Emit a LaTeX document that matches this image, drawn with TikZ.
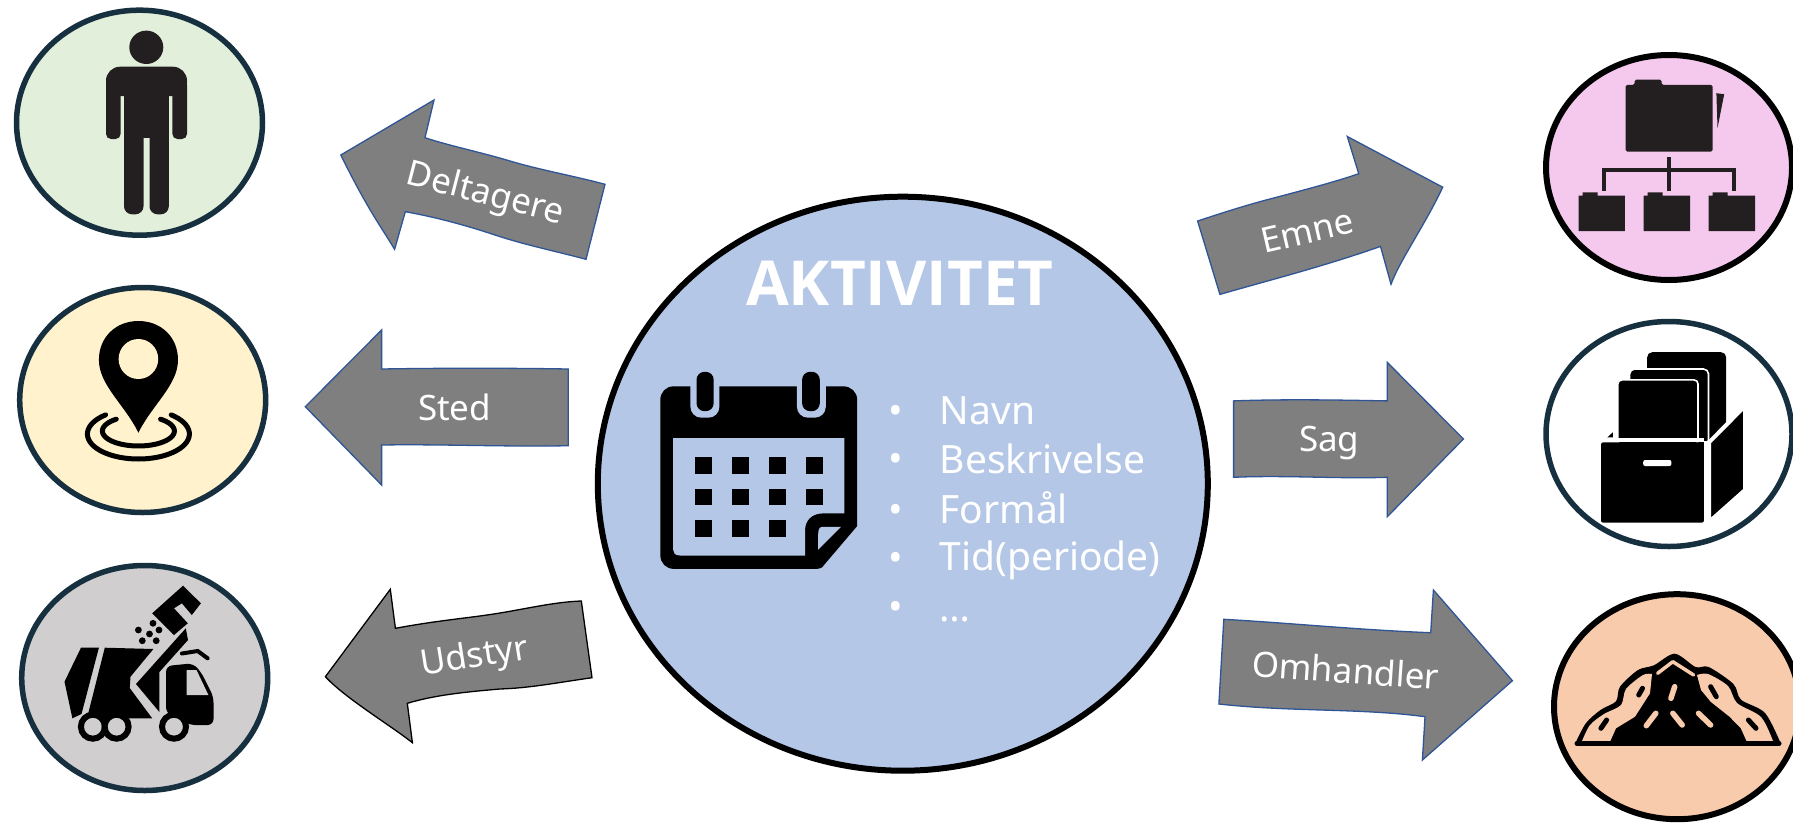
\documentclass[tikz,border=0pt]{standalone}
\usepackage{fontspec}
\setmainfont{Noto Sans}
\newfontfamily\titlefont{Open Sans}
\usetikzlibrary{shapes.geometric}
\definecolor{navyline}{HTML}{17303F}
\definecolor{arrowgray}{HTML}{7F7F7F}
\definecolor{arrowblue}{HTML}{2F5597}
\definecolor{iconblack}{HTML}{231F20}
\definecolor{cgreen}{HTML}{E2EFDA}
\definecolor{cyellow}{HTML}{FFF2CC}
\definecolor{cgray}{HTML}{D0CECE}
\definecolor{cblue}{HTML}{B4C7E7}
\definecolor{cpink}{HTML}{F5C9EE}
\definecolor{cpeach}{HTML}{F8CBAD}
\tikzset{
  disc/.style={ellipse,draw=navyline,line width=5.5pt,inner sep=0pt,minimum width=246pt,minimum height=225pt},
  blockarrow/.style={fill=arrowgray,draw=arrowblue,line width=1.3pt,line join=miter},
  arrowlabel/.style={text=white,inner sep=0pt,font=\fontsize{35}{35}\selectfont},
  listitem/.style={text=white,inner sep=0pt,anchor=base west,font=\fontsize{39}{39}\selectfont},
  listbullet/.style={text=white,inner sep=0pt,anchor=base,font=\fontsize{39}{39}\selectfont},
}
\begin{document}
\begin{tikzpicture}[x=1pt,y=-1pt]
\useasboundingbox (0,0) rectangle (1793,822);
\clip (0,0) rectangle (1793,822);
\fill[white] (0,0) rectangle (1793,822);
% discs
\node[disc,fill=cgreen] (people) at (139.5,122.7) {};
\node[disc,fill=cyellow] (place) at (142.7,400) {};
\node[disc,fill=cgray] (gear) at (144.7,678) {};
\node[disc,fill=cpink,draw=black,line width=6pt] (topic) at (1669,167.5) {};
\node[disc,fill=white] (case) at (1669,434) {};
\node[disc,fill=cpeach,draw=black,line width=6pt] (about) at (1677,706.7) {};
\node[ellipse,draw=black,fill=cblue,line width=6pt,inner sep=0pt,minimum width=610pt,minimum height=574pt] (act) at (902.8,483.7) {};
% arrows
\path[blockarrow] (340.8,155) -- (434,100) -- (425,137.7) .. controls (450,146) and (480,152) .. (510,161) .. controls (540,170) and (570,175) .. (605,184.3) -- (586,259.3) .. controls (555,251) and (525,245) .. (495,235) .. controls (465,225) and (435,217) .. (405.3,211.7) -- (394.6,249.3) .. controls (380,225) and (368,210) .. cycle;
\path[blockarrow] (305.3,406.7) -- (381.6,330) -- (381.6,369) .. controls (440,368) and (510,368) .. (568.2,369) -- (568.2,445.7) .. controls (510,447) and (440,444) .. (381.6,445) -- (381.6,485) -- cycle;
\path[blockarrow,draw=black] (325.4,676.7) -- (390.3,589.3) -- (395.4,628.3) .. controls (440,620) and (470,618) .. (500,613) .. controls (530,608) and (555,602) .. (581.3,601) -- (592,677.7) .. controls (555,683) and (530,688) .. (500,689) .. controls (465,692) and (435,695) .. (407.3,703.3) -- (412.4,742.7) .. controls (390,725) and (345,698) .. cycle;
\path[blockarrow] (1197.6,221) .. controls (1225,212) and (1250,204) .. (1273.8,198) .. controls (1300,191) and (1335,182) .. (1358.7,173.7) -- (1347.3,136.5) -- (1442.7,187.2) .. controls (1425,225) and (1400,260) .. (1391,284.2) -- (1380.5,246.4) .. controls (1325,266) and (1270,280) .. (1219.9,294.4) -- cycle;
\path[blockarrow] (1233.6,400.9) .. controls (1285,399) and (1340,400) .. (1387.2,400.9) -- (1387.2,362.3) -- (1463.4,439) -- (1387.2,516.8) -- (1387.2,477.3) .. controls (1340,479) and (1285,475) .. (1233.6,477.3) -- cycle;
\path[blockarrow] (1223.8,619.3) .. controls (1290,623) and (1360,630) .. (1430.7,632.7) -- (1433.4,590) -- (1512.4,680.7) -- (1422.4,760) -- (1425,716.7) .. controls (1360,708) and (1290,712) .. (1218.9,704) -- cycle;
% arrow labels
\node[arrowlabel,rotate=-14.5] (lbl1) at (485,195) {Deltagere};
\node[arrowlabel] (lbl2) at (454.7,407.3) {Sted};
\node[arrowlabel,rotate=9] (lbl3) at (474.5,658.3) {Udstyr};
\node[arrowlabel,rotate=13] (lbl4) at (1307,231) {Emne};
\node[arrowlabel] (lbl5) at (1329.3,443) {Sag};
\node[arrowlabel,rotate=-4] (lbl6) at (1345.6,670) {Omhandler};
% central texts
\node[text=white,inner sep=0pt,anchor=base,font=\titlefont\fontsize{62}{62}\selectfont\bfseries] (title) at (900,305.6) {AKTIVITET};
\foreach \n/\t/\yb in {a/Navn/424.2,b/Beskrivelse/473.2,c/Formål/523,d/Tid(periode)/570.8,e/…/621.7}{
  \node[listitem] (item\n) at (939.5,\yb) {\t};
}
\node[listbullet] (ba) at (896,424) {•};
\node[listbullet] (bb) at (896,472.8) {•};
\node[listbullet] (bc) at (896,523) {•};
\node[listbullet] (bd) at (896,571.2) {•};
\node[listbullet] (be) at (896,620.9) {•};
% calendar
\fill[black] (674,386.3) -- (843,386.3) .. controls (851,386.3) and (857.2,392) .. (857.2,400) -- (857.2,526) -- (824,565) .. controls (822,568) and (820,568.9) .. (817,568.9) -- (674,568.9) .. controls (666,568.9) and (660.3,563) .. (660.3,555) -- (660.3,400) .. controls (660.3,392) and (666,386.3) .. cycle;
\fill[cblue] (673.2,438) -- (844.3,438) -- (844.3,513.4) -- (823,513.4) .. controls (812,513.4) and (805,520) .. (805,530.6) -- (805,555.5) -- (680,555.5) .. controls (675,555.5) and (673.2,553) .. (673.2,550) -- cycle;
\fill[cblue] (841,526.8) -- (823,526.8) .. controls (819,526.8) and (818.2,530) .. (818.2,534) -- (818.2,549.7) -- cycle;
\fill[cblue,rounded corners=11pt] (690.4,375) rectangle (719.4,417.7);
\fill[cblue,rounded corners=11pt] (796.9,375) rectangle (825.8,417.7);
\fill[black,rounded corners=8pt] (696.5,371.8) rectangle (713.7,411.2);
\fill[black,rounded corners=8pt] (802.1,371.8) rectangle (819.8,411.2);
\foreach \x in {694.5,731.8,768.8,805.8}{
  \fill[black] (\x,457.1) rectangle ++(17,16.9);
  \fill[black] (\x,488.5) rectangle ++(17,16.5);
}
\foreach \x in {694.5,731.8,768.8}{
  \fill[black] (\x,520.3) rectangle ++(17,16.4);
}
% person
\fill[iconblack] (146.3,47.3) ellipse[x radius=17,y radius=16.7];
\fill[iconblack,rounded corners=14pt] (106,96) -- (106,66.7) -- (187,66.7) -- (187,96) -- cycle;
\fill[iconblack] (106,78) rectangle (187,90);
\fill[iconblack,rounded corners=5pt] (106,80) rectangle (120.6,139);
\fill[iconblack,rounded corners=5pt] (172.4,80) rectangle (187,139);
\fill[iconblack] (124,80) rectangle (168.8,137.7);
\fill[iconblack,rounded corners=8pt] (124,120) rectangle (143.5,214.3);
\fill[iconblack,rounded corners=8pt] (149.5,120) rectangle (168.8,214.3);
% pin
\draw[black,line width=5pt,line cap=round] plot[smooth,samples=50,domain=-50:230] ({138.4+51*cos(\x)},{434+25*sin(\x)});
\draw[black,line width=5pt,line cap=round] plot[smooth,samples=50,domain=-52:232] ({138.4+36*cos(\x)},{431+15*sin(\x)});
\fill[black] (138.4,432.7) .. controls (125,405) and (98.9,385) .. (98.9,360) .. controls (98.9,337) and (116,321) .. (138.4,321) .. controls (161,321) and (178,337) .. (178,360) .. controls (178,385) and (152,405) .. cycle;
\fill[cyellow] (138.4,359) ellipse[x radius=19.8,y radius=20];
% truck
\fill[black] (81,647.7) -- (98.9,647.7) -- (81.5,714) -- (72.4,718.3) -- (64.5,681.7) -- cycle;
\fill[black] (104.8,647.7) -- (153.4,649) -- (130.5,676.7) -- (129.7,688) -- (152.2,718.3) -- (87,718.3) -- cycle;
\fill[black] (185.8,628.3) -- (188,640) -- (159.4,672) -- (159.4,712) -- (136,684) -- cycle;
\fill[black,rounded corners=6pt] (166,666) -- (193,663.3) -- (201,672) -- (213.5,696.7) -- (213.5,725) -- (189.8,725) -- (166,713) -- cycle;
\fill[cgray] (186.6,670) -- (196.5,670) -- (208.4,695) -- (186.6,695) -- cycle;
\draw[black,line width=4pt,line cap=round] (181.9,653.5) -- (197.7,651) -- (207.6,658.3);
\fill[black] (183,585.7) -- (200.9,603.3) -- (191.8,615) -- (181.9,603.3) -- (174,608.3) -- (187.8,623.3) -- (174,635) -- (152.2,613.3) -- cycle;
\foreach \x/\y in {138.4/630,153/623.3,159/630,149.5/634,142.3/640.7,156.2/640.7}{\fill[black] (\x,\y) circle (3.4);}
\foreach \x in {92.9,116.6,174}{\draw[black,fill=cgray,line width=6pt] (\x,726.7) circle (12);}
% folders
\fill[iconblack,rounded corners=1.5pt] (1625.7,84.8) -- (1634.6,84.8) -- (1634.6,79.7) -- (1661.6,79.7) -- (1661.6,84.8) -- (1712.5,84.8) -- (1712.5,151.7) -- (1625.7,151.7) -- cycle;
\fill[iconblack] (1716.4,93.2) -- (1724.2,94.2) -- (1717.5,128) -- cycle;
\draw[iconblack,line width=4pt] (1669.4,156.8) -- (1669.4,190.6);
\draw[iconblack,line width=4pt] (1604.2,190.6) -- (1604.2,170.3) -- (1734.3,170.3) -- (1734.3,190.6);
\foreach \x/\w in {1578.7/46.2,1643.6/46.6,1708.5/46.5}{
  \fill[iconblack] (\x,195.6) -- ++(4,0) -- ++(0,-3.3) -- ++(15,0) -- ++(0,3.3) -- (\x+\w,195.6) -- (\x+\w,231.1) -- (\x,231.1) -- cycle;
}
% box
\fill[black,rounded corners=5pt] (1647.2,352.2) rectangle (1726.1,440);
\draw[white,line width=1.6pt,fill=black,rounded corners=5pt] (1629.6,369) rectangle (1708.5,445);
\draw[white,line width=1.6pt,fill=black,rounded corners=4pt] (1617.8,379.9) rectangle (1698,445);
\fill[black] (1607.3,437.4) -- (1612.8,432.3) -- (1612.8,437.4) -- cycle;
\draw[white,line width=4pt,fill=black] (1709,442.4) -- (1745,406) -- (1745,490) -- (1709,522) -- cycle;
\fill[white] (1704,441) rectangle (1709,525);
\fill[white] (1600,437.5) rectangle (1704,442.4);
\fill[black,rounded corners=2pt] (1601,442.4) rectangle (1703.9,522.6);
\fill[white,rounded corners=2pt] (1643.2,460) rectangle (1671.4,466);
% pile
\fill[black] plot[smooth,tension=.5] coordinates {(1575,744) (1585.8,723.3) (1600.9,709.7) (1616,701.3) (1620,686.7) (1638,670) (1653.9,665.3) (1674.7,653.7) (1695.5,667) (1708.7,667) (1733.4,684) (1741,699.7) (1765,713) (1781,744)} -- cycle;
\fill[cpeach] plot[smooth,tension=.5] coordinates {(1582,741) (1590,725) (1604,714) (1621,705) (1626,689) (1643,675) (1652,674)} -- (1650,693.3) -- (1635,716.7) -- (1616,728.3) -- (1610.3,741) -- cycle;
\fill[cpeach] plot[smooth,tension=.5] coordinates {(1773,741) (1761,717) (1737,703) (1728,686) (1708,674) (1697,675)} -- (1701,690) -- (1710.6,701.7) -- (1729.5,716.7) -- (1740.8,728.3) -- (1746.5,741) -- cycle;
\draw[cpeach,line width=3.5pt,line cap=round,line join=round] (1657.6,673.3) -- (1672.8,661.7) -- (1693.6,675);
\draw[black,line width=5pt,line cap=round] (1577,743.5) -- (1779,743.5);
\foreach \xa/\ya/\xb/\yb in {1674.7/686.7/1670.9/698.3,1655.8/713.3/1646.3/725.7,1672.8/713.3/1682.2/725,1698.5/713.3/1710.6/725}{\draw[cpeach,line width=5.5pt,line cap=round] (\xa,\ya) -- (\xb,\yb);}
\foreach \xa/\ya/\xb/\yb in {1642.5/688.3/1638.7/695,1710.6/686.7/1716.3/696.7,1606.6/720/1600.9/728.3,1748.4/720/1756/728.3}{\draw[black,line width=5pt,line cap=round] (\xa,\ya) -- (\xb,\yb);}
\end{tikzpicture}
\end{document}
